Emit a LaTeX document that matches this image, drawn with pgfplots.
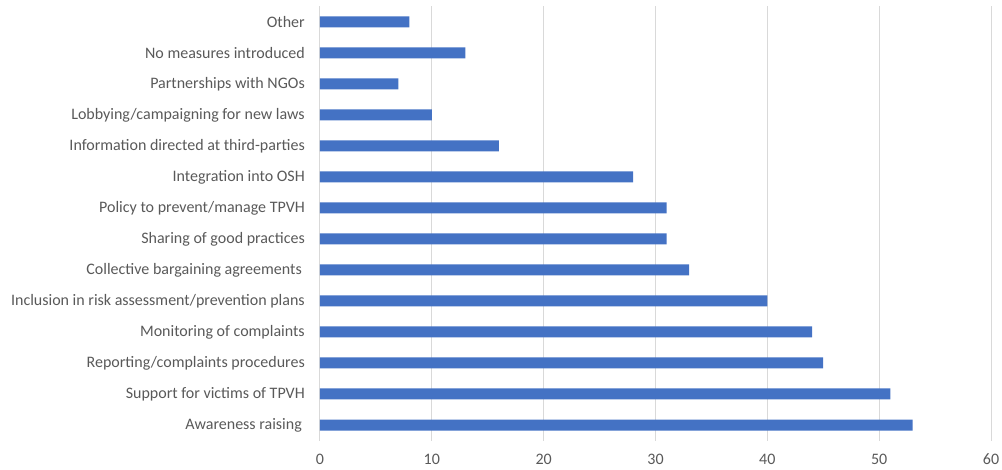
\documentclass[border=0pt]{standalone}
\usepackage{fontspec}
\setmainfont{Carlito}
\usepackage{pgfplots}
\pgfplotsset{compat=1.18}
\definecolor{barblue}{HTML}{4472C4}
\definecolor{txtgray}{HTML}{595959}
\definecolor{gridgray}{HTML}{D9D9D9}
\begin{document}
\fontsize{16}{19}\selectfont
\begin{tikzpicture}
\begin{axis}[
  name=ax,
  scale only axis,
  width=671pt, height=434pt,
  xmin=0, xmax=60,
  ymin=-0.5, ymax=13.5,
  xtick={0,10,...,60},
  ytick={0,...,13},
  yticklabels={Awareness raising\hspace*{3pt}, Support for victims of TPVH, Reporting/complaints procedures, Monitoring of complaints, Inclusion in risk assessment/prevention plans, Collective bargaining agreements\hspace*{3pt}, Sharing of good practices, Policy to prevent/manage TPVH, Integration into OSH, Information directed at third-parties, Lobbying/campaigning for new laws, Partnerships with NGOs, No measures introduced, Other},
  axis x line*=bottom, axis y line*=left,
  axis line style={draw=none},
  major tick length=0pt,
  xmajorgrids,
  major grid style={gridgray, line width=1pt},
  tick label style={font=\fontsize{16}{19}\selectfont, text=txtgray},
  /pgf/number format/assume math mode=true,
  yticklabel style={inner sep=0pt, xshift=-15pt},
  xticklabel style={inner sep=0pt, yshift=-13pt},
  xbar, bar width=11pt,
]
\addplot[draw=none, fill=barblue] coordinates {
 (53,0) (51,1) (45,2) (44,3) (40,4) (33,5) (31,6) (31,7) (28,8) (16,9) (10,10) (7,11) (13,12) (8,13)
};
\end{axis}
\path (ax.south west) ++(-320pt,-28.5pt) coordinate (a);
\path (ax.north east) ++(11pt,6.5pt) coordinate (b);
\path (a) rectangle (b);
\end{tikzpicture}
\end{document}
